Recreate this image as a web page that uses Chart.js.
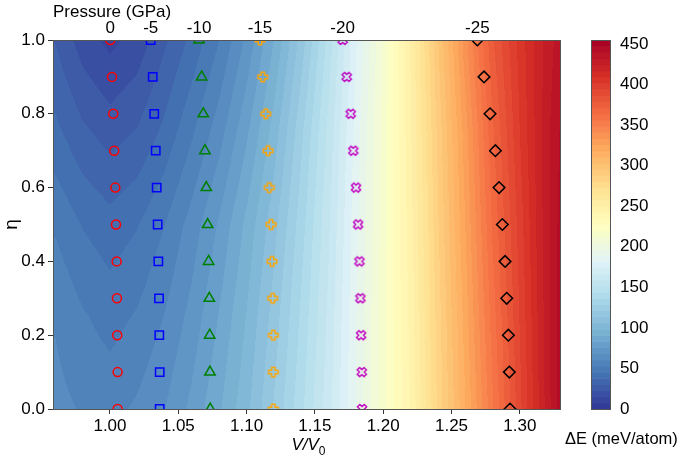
<!DOCTYPE html>
<html>
<head>
<meta charset="utf-8">
<script src="https://cdn.jsdelivr.net/npm/chart.js@4.4.0/dist/chart.umd.min.js"></script>
<style>
  html, body { margin: 0; padding: 0; background: #fff; }
  canvas { display: block; }
</style>
</head>
<body>
<canvas id="chart" width="685" height="457"></canvas>
<script>
// eta values shared by every pressure series
const etaValues = [0, 0.1, 0.2, 0.3, 0.4, 0.5, 0.6, 0.7, 0.8, 0.9, 1.0];

// V/V0 of each marker, eta = 0 -> 1
const vP0 = [1.0056, 1.0056, 1.0053, 1.0051, 1.0049, 1.0044, 1.0039, 1.0031, 1.0024, 1.0015, 1.0002];
const vP5 = [1.0364, 1.0364, 1.0361, 1.0359, 1.0354, 1.0349, 1.0342, 1.0335, 1.0324, 1.0313, 1.0298];
const vP10 = [1.0734, 1.0732, 1.0730, 1.0727, 1.0722, 1.0715, 1.0705, 1.0695, 1.0683, 1.0671, 1.0652];
const vP15 = [1.1196, 1.1196, 1.1196, 1.1191, 1.1186, 1.1179, 1.1166, 1.1157, 1.1140, 1.1118, 1.1098];
const vP20 = [1.1845, 1.1843, 1.1838, 1.1833, 1.1826, 1.1816, 1.1801, 1.1781, 1.1762, 1.1733, 1.1703];
const vP25 = [1.2928, 1.2923, 1.2916, 1.2904, 1.2892, 1.2872, 1.2848, 1.2821, 1.2782, 1.2738, 1.2689];
const pressureLabels = ["0", "-5", "-10", "-15", "-20", "-25"];

// Delta E field (meV/atom)
const gridV = [0.96, 0.98, 1.00, 1.02, 1.04, 1.06, 1.08, 1.10, 1.12, 1.14, 1.16, 1.18, 1.20, 1.22, 1.24, 1.26, 1.28, 1.30, 1.32, 1.34];
const gridEta = [0, 0.25, 0.5, 0.75, 1.0];
const dE000 = [63, 60, 58, 62, 68, 78, 90, 104, 122, 142, 164, 190, 217, 243, 282, 318, 355, 392, 428, 462];
const dE025 = [60, 54, 50, 54, 61, 71, 84, 99, 117, 138, 161, 189, 217, 245, 284, 322, 360, 395, 429, 460];
const dE050 = [52, 45, 41, 45, 53, 64, 77, 93, 111, 133, 158, 187, 216, 247, 287, 326, 365, 398, 430, 456];
const dE075 = [40, 32, 27, 31, 40, 52, 65, 82, 102, 127, 154, 185, 215, 249, 290, 330, 370, 402, 430, 452];
const dE100 = [30, 19, 13, 18, 29, 40, 53, 70, 91, 117, 147, 181, 213, 251, 295, 338, 378, 405, 428, 445];

// axis ticks
const xTicks = [1.00, 1.05, 1.10, 1.15, 1.20, 1.25, 1.30];
const yTicks = [0, 0.2, 0.4, 0.6, 0.8, 1.0];
const cbTicks = [0, 50, 100, 150, 200, 250, 300, 350, 400, 450];
const cbMax = 455;

const FONT = "'Liberation Sans', Arial, sans-serif";
const xMin = 0.9583, xMax = 1.3294;
const nLevels = 60;

// RdYlBu reversed
const cmapStops = ["#313695", "#4575b4", "#74add1", "#abd9e9", "#e0f3f8", "#ffffbf",
  "#fee090", "#fdae61", "#f46d43", "#d73027", "#a50026"].map((h) => [
  parseInt(h.slice(1, 3), 16), parseInt(h.slice(3, 5), 16), parseInt(h.slice(5, 7), 16)]);

function cmap(t) {
  t = Math.min(1, Math.max(0, t)) * (cmapStops.length - 1);
  const i = Math.min(cmapStops.length - 2, Math.floor(t));
  const f = t - i;
  const a = cmapStops[i], b = cmapStops[i + 1];
  return [a[0] + (b[0] - a[0]) * f, a[1] + (b[1] - a[1]) * f, a[2] + (b[2] - a[2]) * f];
}

function levelColor(val) {
  const step = cbMax / nLevels;
  const lvl = Math.min(nLevels - 1, Math.max(0, Math.floor(val / step)));
  return cmap((lvl + 0.5) / nLevels);
}

const fieldRows = [dE000, dE025, dE050, dE075, dE100];

function findCell(arr, v) {
  if (v <= arr[0]) return [0, 0];
  if (v >= arr[arr.length - 1]) return [arr.length - 2, 1];
  let i = 0;
  while (arr[i + 1] < v) i++;
  return [i, (v - arr[i]) / (arr[i + 1] - arr[i])];
}

function fieldAt(v, e) {
  const [i, fx] = findCell(gridV, v);
  const [j, fy] = findCell(gridEta, e);
  const r0 = fieldRows[j], r1 = fieldRows[j + 1];
  const a = r0[i] + (r0[i + 1] - r0[i]) * fx;
  const b = r1[i] + (r1[i + 1] - r1[i]) * fx;
  return a + (b - a) * fy;
}

// outline marker shapes (matplotlib 'P' and 'X')
function plusMarker(color, rot) {
  const c = document.createElement("canvas");
  c.width = 14; c.height = 14;
  const g = c.getContext("2d");
  const s = 4.8, w = 1.7;
  const pts = [[-w, -s], [w, -s], [w, -w], [s, -w], [s, w], [w, w], [w, s], [-w, s], [-w, w], [-s, w], [-s, -w], [-w, -w]];
  g.translate(7, 7);
  g.rotate(rot);
  g.beginPath();
  pts.forEach((p, k) => (k ? g.lineTo(p[0], p[1]) : g.moveTo(p[0], p[1])));
  g.closePath();
  g.strokeStyle = color;
  g.lineWidth = 1.4;
  g.stroke();
  return c;
}

function series(label, vals, color, style, radius) {
  return {
    label: label,
    data: vals.map((v, i) => ({ x: v, y: etaValues[i] })),
    pointStyle: style,
    pointRadius: radius,
    borderColor: color,
    backgroundColor: "rgba(0,0,0,0)",
    pointBorderWidth: 1.5,
    clip: 0,
  };
}

const allSeries = [vP0, vP5, vP10, vP15, vP20, vP25];

const fieldPlugin = {
  id: "field",
  beforeDatasetsDraw(chart) {
    const { ctx, chartArea: a, scales } = chart;
    const w = Math.round(a.right - a.left), h = Math.round(a.bottom - a.top);
    const off = document.createElement("canvas");
    off.width = w; off.height = h;
    const octx = off.getContext("2d");
    const img = octx.createImageData(w, h);
    for (let py = 0; py < h; py++) {
      const e = scales.y.getValueForPixel(a.top + py + 0.5);
      for (let px = 0; px < w; px++) {
        const v = scales.x.getValueForPixel(a.left + px + 0.5);
        const col = levelColor(fieldAt(v, e));
        const k = (py * w + px) * 4;
        img.data[k] = col[0]; img.data[k + 1] = col[1]; img.data[k + 2] = col[2]; img.data[k + 3] = 255;
      }
    }
    octx.putImageData(img, 0, 0);
    ctx.drawImage(off, a.left, a.top);

    // colour bar
    const cb = scales.cb;
    const bx = 591, bw = 19;
    const step = cbMax / nLevels;
    for (let l = 0; l < nLevels; l++) {
      const y0 = cb.getPixelForValue(l * step), y1 = cb.getPixelForValue((l + 1) * step);
      const c = cmap((l + 0.5) / nLevels);
      ctx.fillStyle = `rgb(${c[0]},${c[1]},${c[2]})`;
      ctx.fillRect(bx, y1, bw, y0 - y1 + 0.6);
    }
    ctx.strokeStyle = "#555";
    ctx.lineWidth = 1;
    const top = cb.getPixelForValue(cbMax), bot = cb.getPixelForValue(0);
    ctx.strokeRect(bx + 0.5, Math.round(top) + 0.5, bw, Math.round(bot - top));
  },
  afterDatasetsDraw(chart) {
    const { ctx, chartArea: a } = chart;
    ctx.save();
    ctx.strokeStyle = "#555";
    ctx.lineWidth = 1;
    ctx.strokeRect(Math.round(a.left) + 0.5, Math.round(a.top) + 0.5, Math.round(a.right - a.left), Math.round(a.bottom - a.top));

    // V/V0 axis title
    ctx.fillStyle = "#000";
    ctx.textBaseline = "alphabetic";
    const main = "V/V";
    ctx.font = `italic 17px ${FONT}`;
    const mw = ctx.measureText(main).width;
    ctx.font = `12px ${FONT}`;
    const sw = ctx.measureText("0").width;
    const cx = (a.left + a.right) / 2 + 2;
    const x0 = cx - (mw + sw) / 2;
    ctx.font = `italic 17px ${FONT}`;
    ctx.fillText(main, x0, 450);
    ctx.font = `12px ${FONT}`;
    ctx.fillText("0", x0 + mw, 455);

    // colour bar title
    ctx.font = `16.5px ${FONT}`;
    ctx.fillText("\u0394E (meV/atom)", 565, 444);
    ctx.restore();
  },
};

const tickFont = { family: FONT, size: 17 };

new Chart(document.getElementById("chart"), {
  type: "scatter",
  data: {
    datasets: [
      series("0 GPa", vP0, "#ff0000", "circle", 4.5),
      series("-5 GPa", vP5, "#0000ff", "rect", 5.9),
      series("-10 GPa", vP10, "#008000", "triangle", 6),
      series("-15 GPa", vP15, "#ffa500", plusMarker("#ffa500", 0), 7),
      series("-20 GPa", vP20, "#bf00bf", plusMarker("#bf00bf", Math.PI / 4), 7),
      series("-25 GPa", vP25, "#000000", "rectRot", 5.8),
    ],
  },
  options: {
    responsive: false,
    animation: false,
    layout: { padding: 0 },
    plugins: { legend: { display: false }, tooltip: { enabled: false } },
    scales: {
      x: {
        type: "linear",
        position: "bottom",
        min: xMin,
        max: xMax,
        afterBuildTicks: (s) => { s.ticks = xTicks.map((v) => ({ value: v })); },
        afterFit: (s) => { s.height = 48; s.paddingLeft = 0; s.paddingRight = 0; },
        ticks: { callback: (v) => Number(v).toFixed(2), color: "#000", font: tickFont, padding: 2, maxRotation: 0, autoSkip: false },
        grid: { drawOnChartArea: false, tickLength: 5, color: "#333", tickColor: "#333" },
        border: { display: false },
      },
      x2: {
        type: "linear",
        axis: "x",
        position: "top",
        min: xMin,
        max: xMax,
        afterBuildTicks: (s) => { s.ticks = allSeries.map((a) => ({ value: a[a.length - 1] })); },
        afterFit: (s) => { s.height = 40; s.paddingLeft = 0; s.paddingRight = 0; },
        ticks: { callback: (v, i) => pressureLabels[i], color: "#000", font: tickFont, padding: -7, maxRotation: 0, autoSkip: false },
        grid: { display: false },
        border: { display: false },
        title: { display: true, text: "Pressure (GPa)", align: "start", color: "#000", font: tickFont, padding: { top: 2, bottom: 0 } },
      },
      y: {
        type: "linear",
        position: "left",
        min: 0,
        max: 1,
        afterBuildTicks: (s) => { s.ticks = yTicks.map((v) => ({ value: v })); },
        afterFit: (s) => { s.width = 53; s.paddingTop = 0; s.paddingBottom = 0; },
        ticks: { callback: (v) => Number(v).toFixed(1), color: "#000", font: tickFont, padding: 3 },
        grid: { drawOnChartArea: false, tickLength: 5, color: "#333", tickColor: "#333" },
        border: { display: false },
        title: { display: true, text: "\u03b7", color: "#000", font: { family: FONT, size: 19 }, padding: 0 },
      },
      cb: {
        type: "linear",
        axis: "y",
        position: "right",
        min: 0,
        max: cbMax,
        afterBuildTicks: (s) => { s.ticks = cbTicks.map((v) => ({ value: v })); },
        afterFit: (s) => { s.width = 125; s.paddingTop = 0; s.paddingBottom = 0; },
        ticks: { color: "#000", font: tickFont, padding: 52 },
        grid: { display: false },
        border: { display: false },
      },
    },
  },
  plugins: [fieldPlugin],
});
</script>
</body>
</html>
